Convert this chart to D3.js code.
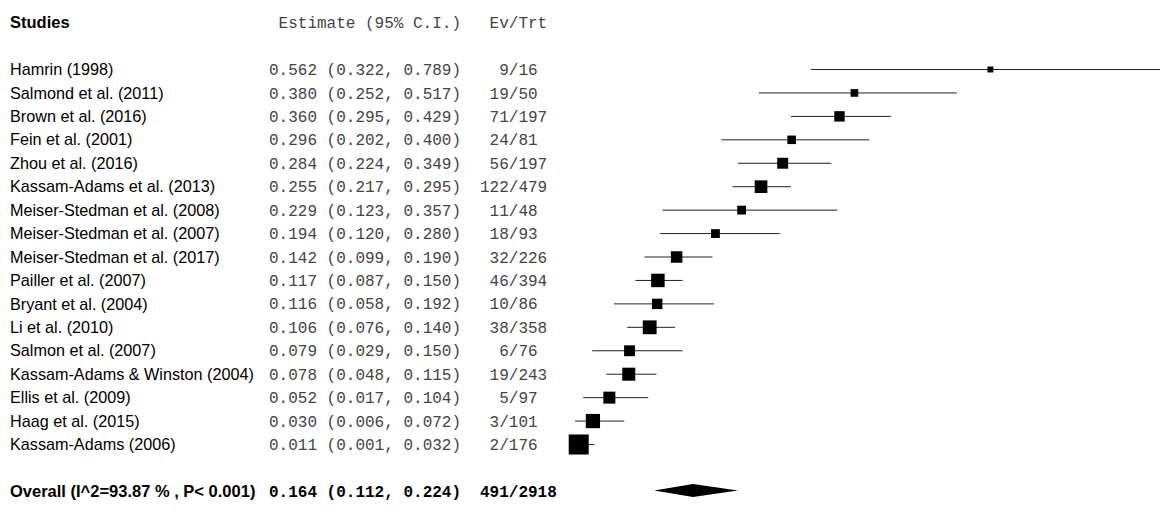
<!DOCTYPE html>
<html>
<head>
<meta charset="utf-8">
<script src="https://cdn.jsdelivr.net/npm/d3@7"></script>
<style>
  body { margin: 0; background: #fff; }
  .lab { font-family: "Liberation Sans", Arial, sans-serif; font-size: 16.2px; fill: #000; }
  .lab.bold { font-size: 16.5px; }
  .mono { font-family: "Liberation Mono", "Courier New", monospace; font-size: 16px; fill: #444; }
  .bold { font-weight: bold; fill: #000; }
</style>
</head>
<body>
<div id="chart"></div>
<script>
// study rows, top to bottom
const studies = [
  'Hamrin (1998)', 'Salmond et al. (2011)', 'Brown et al. (2016)', 'Fein et al. (2001)',
  'Zhou et al. (2016)', 'Kassam-Adams et al. (2013)', 'Meiser-Stedman et al. (2008)',
  'Meiser-Stedman et al. (2007)', 'Meiser-Stedman et al. (2017)', 'Pailler et al. (2007)',
  'Bryant et al. (2004)', 'Li et al. (2010)', 'Salmon et al. (2007)',
  'Kassam-Adams & Winston (2004)', 'Ellis et al. (2009)', 'Haag et al. (2015)',
  'Kassam-Adams (2006)'
];
const estimate = [0.562, 0.380, 0.360, 0.296, 0.284, 0.255, 0.229, 0.194, 0.142, 0.117, 0.116, 0.106, 0.079, 0.078, 0.052, 0.030, 0.011];
const lower    = [0.322, 0.252, 0.295, 0.202, 0.224, 0.217, 0.123, 0.120, 0.099, 0.087, 0.058, 0.076, 0.029, 0.048, 0.017, 0.006, 0.001];
const upper    = [0.789, 0.517, 0.429, 0.400, 0.349, 0.295, 0.357, 0.280, 0.190, 0.150, 0.192, 0.140, 0.150, 0.115, 0.104, 0.072, 0.032];
const evTrt    = ['9/16', '19/50', '71/197', '24/81', '56/197', '122/479', '11/48', '18/93', '32/226', '46/394', '10/86', '38/358', '6/76', '19/243', '5/97', '3/101', '2/176'];
// relative weights (%)
const weight   = [1.5, 2.5, 4.6, 3.1, 5.1, 6.8, 3.3, 3.3, 5.6, 7.7, 4.6, 8.1, 5.0, 7.2, 6.1, 8.6, 17.0];

const overall = { label: 'Overall (I^2=93.87 % , P< 0.001)', est: 0.164, lo: 0.112, hi: 0.224, ev: '491/2918' };

const width = 1162, height = 523;
const cw = 9.6; // mono char width at 16px

const svg = d3.select('#chart').append('svg')
  .attr('width', width)
  .attr('height', height);

const x = d3.scaleLinear()
  .domain([0, d3.max(upper)])
  .range([570.5, 1160]);

const y = d3.scalePoint()
  .domain(studies)
  .range([69.5, 444.5]);

const size = d3.scaleSqrt()
  .domain([0, d3.max(weight)])
  .range([0, 20]);

const fmt = d3.format('.3f');
const ciText = (e, l, h) => `${fmt(e)} (${fmt(l)}, ${fmt(h)})`;
// Ev/Trt centred in an 8 character field
const evX = s => 480 + Math.floor((8 - s.length) / 2) * cw;

// header
const headY = 22;
svg.append('text').attr('class', 'lab bold').attr('x', 10).attr('y', headY).attr('dy', '0.35em').text('Studies');
svg.append('text').attr('class', 'mono').attr('x', 269 + cw).attr('y', headY).attr('dy', '0.35em').text('Estimate (95% C.I.)');
svg.append('text').attr('class', 'mono').attr('x', evX('Ev/Trt')).attr('y', headY).attr('dy', '0.35em').text('Ev/Trt');

const rows = svg.selectAll('.row')
  .data(studies)
  .enter()
  .append('g')
  .attr('class', 'row');

rows.append('text')
  .attr('class', 'lab')
  .attr('x', 10)
  .attr('y', d => y(d))
  .attr('dy', '0.35em')
  .text(d => d);

rows.append('text')
  .attr('class', 'mono')
  .attr('x', 269)
  .attr('y', d => y(d))
  .attr('dy', '0.35em')
  .text((d, i) => ciText(estimate[i], lower[i], upper[i]));

rows.append('text')
  .attr('class', 'mono')
  .attr('x', (d, i) => evX(evTrt[i]))
  .attr('y', d => y(d))
  .attr('dy', '0.35em')
  .text((d, i) => evTrt[i]);

// confidence intervals
rows.append('line')
  .attr('x1', (d, i) => x(lower[i]))
  .attr('x2', (d, i) => x(upper[i]))
  .attr('y1', d => y(d))
  .attr('y2', d => y(d))
  .attr('stroke', '#222')
  .attr('stroke-width', 1);

// weight boxes
rows.append('rect')
  .attr('x', (d, i) => x(estimate[i]) - size(weight[i]) / 2)
  .attr('y', (d, i) => y(d) - size(weight[i]) / 2)
  .attr('width', (d, i) => size(weight[i]))
  .attr('height', (d, i) => size(weight[i]))
  .attr('fill', '#000');

// overall row
const oy = 491.5;
svg.append('text').attr('class', 'lab bold').attr('x', 10).attr('y', oy).attr('dy', '0.35em').text(overall.label);
svg.append('text').attr('class', 'mono bold').attr('x', 269).attr('y', oy).attr('dy', '0.35em')
  .text(ciText(overall.est, overall.lo, overall.hi));
svg.append('text').attr('class', 'mono bold').attr('x', evX(overall.ev)).attr('y', oy).attr('dy', '0.35em').text(overall.ev);

const dh = 6.5;
svg.append('path')
  .attr('d', d3.line()([
    [x(overall.lo), oy - 1], [x(overall.est), oy - 1 - dh],
    [x(overall.hi), oy - 1], [x(overall.est), oy - 1 + dh]
  ]) + 'Z')
  .attr('fill', '#000');
</script>
</body>
</html>
